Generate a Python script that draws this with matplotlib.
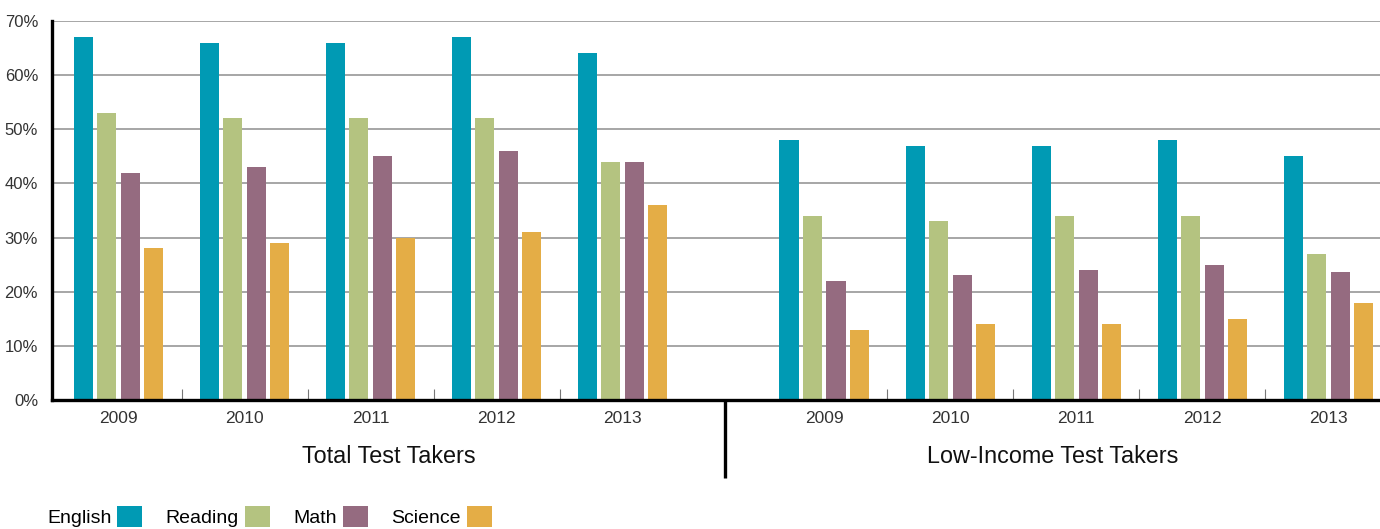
import matplotlib
matplotlib.use("Agg")
from matplotlib import pyplot as plt
from matplotlib.patches import Patch
import matplotlib.transforms as mtransforms
import numpy as np

plt.rcParams['font.family'] = ['Liberation Sans', 'DejaVu Sans']

# data
years = ['2009', '2010', '2011', '2012', '2013']
groups = ['Total Test Takers', 'Low-Income Test Takers']
subjects = ['English', 'Reading', 'Math', 'Science']

total_english = [67, 66, 66, 67, 64]
total_reading = [53, 52, 52, 52, 44]
total_math = [42, 43, 45, 46, 44]
total_science = [28, 29, 30, 31, 36]

low_english = [48, 47, 47, 48, 45]
low_reading = [34, 33, 34, 34, 27]
low_math = [22, 23, 24, 25, 23.7]
low_science = [13, 14, 14, 15, 18]

colors = ['#009ab4', '#b4c380', '#956b80', '#e4ad46']

fig = plt.figure(figsize=(13.8, 5.29), dpi=100)
ax = fig.add_axes([52 / 1380, 1 - 400 / 529, 1 - 52 / 1380, 379 / 529])

# x positions: two blocks of years with a gap between them
gap = 1.6
x_left = np.arange(len(years))
x_right = np.arange(len(years)) + len(years) - 1 + gap
x_all = np.concatenate([x_left, x_right])

series = [
    total_english + low_english,
    total_reading + low_reading,
    total_math + low_math,
    total_science + low_science,
]

width = 0.151
step = 0.1865
for i, (vals, col, name) in enumerate(zip(series, colors, subjects)):
    ax.bar(x_all + (i - 1.5) * step, vals, width, color=col, label=name, zorder=3)

x_min, x_max = -0.528, 10.01
ax.set_xlim(x_min, x_max)
ax.set_ylim(0, 70)

# y axis
ax.set_yticks(np.arange(0, 71, 10))
ax.set_yticklabels([f'{v}%' for v in range(0, 71, 10)])
ax.yaxis.grid(True, color='#8e8e8e', linewidth=1.1, zorder=0)
ax.tick_params(axis='y', length=0, pad=10, labelsize=12, labelcolor='#333333')

# x axis
ax.set_xticks(x_all)
ax.set_xticklabels(years + years)
ax.tick_params(axis='x', which='major', length=0, pad=8, labelsize=12.5, labelcolor='#333333')
minor = np.concatenate([x_left[:-1] + 0.5, x_right[:-1] + 0.5])
ax.set_xticks(minor, minor=True)
ax.tick_params(axis='x', which='minor', direction='in', length=8, width=0.8, color='#777777')

for side in ['top', 'right']:
    ax.spines[side].set_visible(False)
for side in ['left', 'bottom']:
    ax.spines[side].set_linewidth(2.4)
    ax.spines[side].set_color('black')
    ax.spines[side].set_zorder(4)

# divider between the two blocks and the block labels
divider = x_left[-1] + 0.81
trans = mtransforms.blended_transform_factory(ax.transData, ax.transAxes)
ax.plot([divider, divider], [0, -0.206], color='black', linewidth=2.4,
        transform=trans, clip_on=False, solid_capstyle='butt')
ax.text((x_min + divider) / 2, -0.15, groups[0], transform=trans,
        ha='center', va='center', fontsize=16.8, color='#111111')
ax.text((divider + x_max) / 2, -0.15, groups[1], transform=trans,
        ha='center', va='center', fontsize=16.8, color='#111111')

# legend with labels before the swatches
handles = [Patch(facecolor=c, edgecolor='none') for c in colors]
fig.legend(handles, subjects, loc='upper left',
           bbox_to_anchor=(47 / 1380, 1 - 506 / 529),
           ncol=4, frameon=False, markerfirst=False, fontsize=14,
           handlelength=1.3, handleheight=1.3, handletextpad=0.3,
           columnspacing=1.2, borderpad=0, borderaxespad=0)

fig.savefig('out.png', dpi=100)
